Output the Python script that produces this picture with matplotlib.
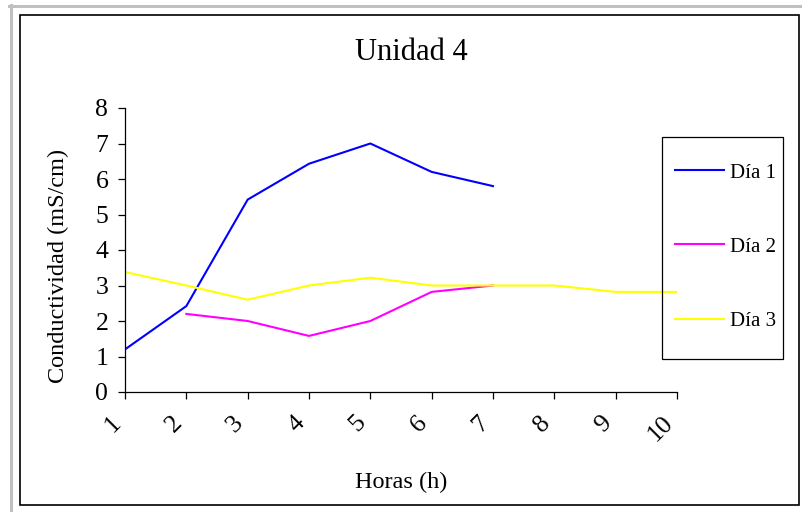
import numpy as np
import matplotlib.pyplot as plt
from matplotlib.lines import Line2D
from matplotlib.patches import Rectangle
import matplotlib.transforms as mtransforms

plt.rcParams['font.family'] = ['Liberation Serif', 'DejaVu Serif']

horas = [1, 2, 3, 4, 5, 6, 7, 8, 9, 10]
dia1 = [1.2, 2.42, 5.42, 6.43, 7.0, 6.2, 5.8]
dia2_horas = [2, 3, 4, 5, 6, 7]
dia2 = [2.2, 2.0, 1.58, 2.0, 2.82, 3.0]
dia3 = [3.38, 3.0, 2.6, 3.0, 3.22, 3.0, 3.0, 3.0, 2.82, 2.82]

W, H = 802, 512
fig = plt.figure(figsize=(W / 100, H / 100), dpi=100)


def fx(x):
    return x / W


def fy(y):
    return 1 - y / H


# plot area
ax = fig.add_axes([fx(125), fy(392), fx(677) - fx(125), fy(108) - fy(392)])

ax.plot(horas[:len(dia1)], dia1, color='#0000ff', lw=1.5, label='Día 1')
ax.plot(dia2_horas, dia2, color='#ff00ff', lw=1.5, label='Día 2')
ax.plot(horas, dia3, color='#ffff00', lw=1.5, label='Día 3')

ax.set_xlim(1, 10)
ax.set_ylim(0, 8)
ax.set_xticks(horas)
ax.set_yticks(range(0, 9))
ax.set_xticklabels([str(h) for h in horas], rotation=45, ha='right', va='top')
shift = mtransforms.ScaledTranslation(-8 / 100, 0, fig.dpi_scale_trans)
for lab in ax.get_xticklabels():
    lab.set_transform(lab.get_transform() + shift)

for s in ['top', 'right']:
    ax.spines[s].set_visible(False)
for s in ['left', 'bottom']:
    ax.spines[s].set_color('black')
    ax.spines[s].set_linewidth(0.9)
ax.tick_params(axis='x', direction='out', length=5, width=0.9, pad=9, labelsize=18.5)
ax.tick_params(axis='y', direction='out', length=5, width=0.9, pad=7, labelsize=18.5)

ax.set_ylabel('Conductividad (mS/cm)', fontsize=17.5, va='center')
ax.yaxis.set_label_coords((58 - 125) / 552, (392 - 266) / 284)
ax.set_xlabel('Horas (h)', fontsize=17.5, va='center')
ax.xaxis.set_label_coords(0.5, (392 - 482) / 284)

fig.text(fx(411), fy(53), 'Unidad 4', fontsize=22, ha='center', va='center')

# legend entries, boxed separately so the box can be taller than the entries
leg = ax.legend(loc='center left', bbox_to_anchor=(fx(669), fy(247)),
                bbox_transform=fig.transFigure, fontsize=15, frameon=False,
                borderaxespad=0, borderpad=0.3, handlelength=2.35,
                handletextpad=0.3, labelspacing=2.62)
fig.add_artist(Rectangle((fx(662), fy(359)), fx(783) - fx(662), fy(137) - fy(359),
                         transform=fig.transFigure, fill=False, ec='black', lw=0.9))

# outer frames
fig.add_artist(Line2D([fx(9), fx(802)], [fy(5.5), fy(5.5)], color='#c0c0c0', lw=2.2))
fig.add_artist(Line2D([fx(10.5), fx(10.5)], [fy(4.5), fy(512)], color='#c0c0c0', lw=2.2))
fig.add_artist(Rectangle((fx(20), fy(505)), fx(799) - fx(20), fy(15) - fy(505),
                         transform=fig.transFigure, fill=False, ec='black', lw=1.2))

fig.savefig('out.png', dpi=100)
